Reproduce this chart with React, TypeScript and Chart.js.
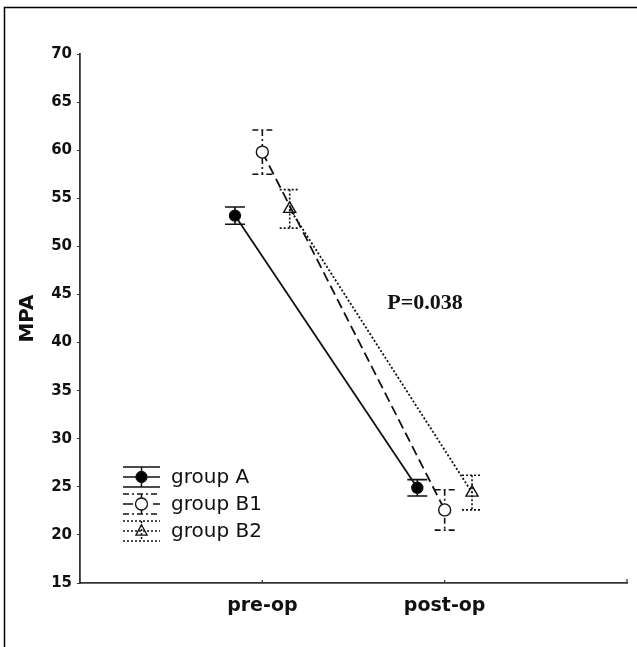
import React, { useEffect, useRef } from 'react';
import { Chart, registerables } from 'chart.js';

Chart.register(...registerables);

const categories = ['pre-op', 'post-op'];
const groupNames = ['group A', 'group B1', 'group B2'];
const groupAMeans = [53.2, 24.9];
const groupAErrors = [0.9, 0.85];
const groupB1Means = [59.8, 22.6];
const groupB1Errors = [2.3, 2.1];
const groupB2Means = [53.9, 24.4];
const groupB2Errors = [2.0, 1.8];
const yTickValues = [15, 20, 25, 30, 35, 40, 45, 50, 55, 60, 65, 70];
const annotationText = 'P=0.038';

const INK = '#111';
const AXIS = '#333';

type GroupStyle = {
  lineDash: number[];
  barDash: number[];
  pointStyle: string;
  radius: number;
  fill: string;
};

const styles: GroupStyle[] = [
  { lineDash: [], barDash: [], pointStyle: 'circle', radius: 5.5, fill: '#000' },
  { lineDash: [10, 5], barDash: [6, 3, 2, 3], pointStyle: 'circle', radius: 6, fill: '#fff' },
  { lineDash: [2, 2], barDash: [2, 2], pointStyle: 'triangle', radius: 7, fill: 'rgba(0,0,0,0)' },
];

const means = [groupAMeans, groupB1Means, groupB2Means];
const errors = [groupAErrors, groupB1Errors, groupB2Errors];
const offsets = [-0.15, 0, 0.15];

const errorBarPlugin = {
  id: 'errorBars',
  beforeDatasetsDraw(chart: any) {
    const { ctx, scales } = chart;
    const xs = scales.x;
    const ys = scales.y;
    means.forEach((series, gi) => {
      ctx.save();
      ctx.strokeStyle = INK;
      ctx.lineWidth = 1.6;
      ctx.setLineDash(styles[gi].barDash);
      series.forEach((m, ci) => {
        const x = xs.getPixelForValue(ci + 1 + offsets[gi]);
        const yTop = ys.getPixelForValue(m + errors[gi][ci]);
        const yBot = ys.getPixelForValue(m - errors[gi][ci]);
        ctx.beginPath();
        ctx.moveTo(x, yTop);
        ctx.lineTo(x, yBot);
        ctx.moveTo(x - 10, yTop);
        ctx.lineTo(x + 10, yTop);
        ctx.moveTo(x - 10, yBot);
        ctx.lineTo(x + 10, yBot);
        ctx.stroke();
      });
      ctx.restore();
    });
  },
};

const decorPlugin = {
  id: 'decor',
  afterDraw(chart: any) {
    const { ctx, scales, chartArea } = chart;
    const xs = scales.x;
    const ys = scales.y;
    ctx.save();
    // frame lines
    ctx.strokeStyle = '#000';
    ctx.lineWidth = 1.5;
    ctx.beginPath();
    ctx.moveTo(4.5, 647);
    ctx.lineTo(4.5, 7.5);
    ctx.lineTo(637, 7.5);
    ctx.stroke();

    // inward x ticks and end tick
    ctx.strokeStyle = AXIS;
    ctx.lineWidth = 1.2;
    ctx.beginPath();
    categories.forEach((_, i) => {
      const x = xs.getPixelForValue(i + 1);
      ctx.moveTo(x, chartArea.bottom);
      ctx.lineTo(x, chartArea.bottom - 3);
    });
    ctx.moveTo(chartArea.right, chartArea.bottom);
    ctx.lineTo(chartArea.right, chartArea.bottom - 4);
    ctx.stroke();

    // y axis title
    ctx.fillStyle = INK;
    ctx.font = 'bold 20px "DejaVu Sans"';
    ctx.textAlign = 'center';
    ctx.textBaseline = 'middle';
    ctx.translate(28, (chartArea.top + chartArea.bottom) / 2);
    ctx.rotate(-Math.PI / 2);
    ctx.fillText('MPA', 0, 0);
    ctx.restore();

    // annotation
    ctx.save();
    ctx.fillStyle = INK;
    ctx.font = 'bold 22px "Liberation Serif"';
    ctx.textAlign = 'left';
    ctx.textBaseline = 'middle';
    ctx.fillText(annotationText, xs.getPixelForValue(1.685), ys.getPixelForValue(44.1));
    ctx.restore();

    // legend
    ctx.save();
    const rowY = [477, 504, 531];
    groupNames.forEach((name, gi) => {
      const cy = rowY[gi];
      const x0 = 123;
      const x1 = 160;
      const cx = (x0 + x1) / 2;
      ctx.strokeStyle = INK;
      ctx.lineWidth = 1.5;
      ctx.setLineDash(styles[gi].barDash);
      ctx.beginPath();
      ctx.moveTo(x0, cy - 10);
      ctx.lineTo(x1, cy - 10);
      ctx.moveTo(x0, cy + 10);
      ctx.lineTo(x1, cy + 10);
      ctx.moveTo(cx, cy - 10);
      ctx.lineTo(cx, cy + 10);
      ctx.stroke();
      ctx.setLineDash(styles[gi].lineDash);
      ctx.beginPath();
      ctx.moveTo(x0, cy);
      ctx.lineTo(x1, cy);
      ctx.stroke();
      ctx.setLineDash([]);
      ctx.fillStyle = styles[gi].fill;
      ctx.lineWidth = 1.3;
      ctx.beginPath();
      const r = styles[gi].radius;
      if (styles[gi].pointStyle === 'circle') {
        ctx.arc(cx, cy, r, 0, Math.PI * 2);
      } else {
        ctx.moveTo(cx, cy - r * 0.9);
        ctx.lineTo(cx + r * 0.8, cy + r * 0.6);
        ctx.lineTo(cx - r * 0.8, cy + r * 0.6);
        ctx.closePath();
      }
      ctx.fill();
      ctx.stroke();

      ctx.fillStyle = INK;
      ctx.font = '20px "DejaVu Sans"';
      ctx.textAlign = 'left';
      ctx.textBaseline = 'middle';
      ctx.fillText(name, 171, cy + 1);
    });
    ctx.restore();
  },
};

export default function App() {
  const canvasRef = useRef<HTMLCanvasElement | null>(null);

  useEffect(() => {
    if (!canvasRef.current) return;
    const datasets = means.map((series, gi) => ({
      label: groupNames[gi],
      data: series.map((v, ci) => ({ x: ci + 1 + offsets[gi], y: v })),
      borderColor: INK,
      borderWidth: 1.8,
      borderDash: styles[gi].lineDash,
      pointStyle: styles[gi].pointStyle,
      pointRadius: styles[gi].radius,
      pointBackgroundColor: styles[gi].fill,
      pointBorderColor: INK,
      pointBorderWidth: 1.4,
      showLine: true,
      fill: false,
      tension: 0,
    }));

    const chart = new Chart(canvasRef.current, {
      type: 'scatter',
      data: { datasets },
      plugins: [errorBarPlugin, decorPlugin],
      options: {
        animation: false,
        responsive: false,
        layout: { padding: { left: 0, top: 54, right: 10, bottom: 0 } },
        plugins: { legend: { display: false }, tooltip: { enabled: false } },
        scales: {
          x: {
            type: 'linear',
            min: 0,
            max: 3,
            afterBuildTicks: (axis: any) => {
              axis.ticks = categories.map((_, i) => ({ value: i + 1 }));
            },
            afterFit: (scale: any) => {
              scale.height = 64;
            },
            grid: { display: false, drawTicks: false },
            border: { display: true, color: AXIS, width: 1.8 },
            ticks: {
              padding: 12,
              color: INK,
              font: { family: 'DejaVu Sans', size: 19, weight: 'bold' },
              callback: (v: any) => categories[Math.round(Number(v)) - 1] ?? '',
            },
          },
          y: {
            type: 'linear',
            min: 15,
            max: 70,
            afterBuildTicks: (axis: any) => {
              axis.ticks = yTickValues.map((v) => ({ value: v }));
            },
            afterFit: (scale: any) => {
              scale.width = 80;
            },
            grid: { display: true, drawOnChartArea: false, drawTicks: true, tickLength: 3, color: AXIS },
            border: { display: true, color: AXIS, width: 1.8 },
            ticks: {
              padding: 5,
              color: INK,
              font: { family: 'DejaVu Sans', size: 15, weight: 'bold' },
            },
          },
        },
      } as any,
    });
    return () => chart.destroy();
  }, []);

  return (
    <div style={{ position: 'absolute', left: 0, top: 0, width: 637, height: 647, background: '#fff' }}>
      <canvas ref={canvasRef} width={637} height={647} style={{ display: 'block' }} />
    </div>
  );
}
